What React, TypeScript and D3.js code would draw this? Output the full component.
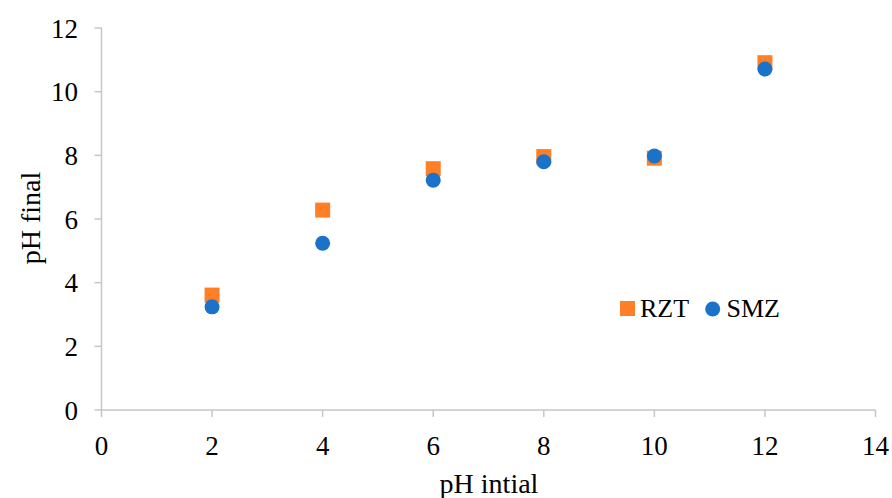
import React from "react";
import * as d3 from "d3";

const xValues = [2, 4, 6, 8, 10, 12];
const rztValues = [3.61, 6.28, 7.58, 7.96, 7.91, 10.91];
const smzValues = [3.24, 5.24, 7.22, 7.8, 7.98, 10.71];
const xTicks = [0, 2, 4, 6, 8, 10, 12, 14];
const yTicks = [0, 2, 4, 6, 8, 10, 12];

const W = 892;
const H = 498;
const font = "'Liberation Serif', 'Times New Roman', serif";
const axisColor = "#c6c6c6";
const orange = "#ff7f27";
const blue = "#1a73c8";

export default function App() {
  const x = d3.scaleLinear().domain([0, 14]).range([101.5, 875.5]);
  const y = d3.scaleLinear().domain([0, 12]).range([410, 28]);
  const ms = 15;
  return (
    <svg width={W} height={H} style={{ position: "absolute", left: 0, top: 0, background: "#fff" }}>
      <rect width={W} height={H} fill="#fff" />
      <line x1={x(0)} x2={x(14)} y1={y(0)} y2={y(0)} stroke={axisColor} strokeWidth={1.5} />
      <line x1={x(0)} x2={x(0)} y1={y(0)} y2={y(12)} stroke={axisColor} strokeWidth={1.5} />
      {xTicks.map((t) => (
        <g key={"xt" + t}>
          <line x1={x(t)} x2={x(t)} y1={y(0)} y2={y(0) + 7} stroke={axisColor} strokeWidth={1.5} />
          <text x={x(t)} y={455} textAnchor="middle" fontFamily={font} fontSize={27} fill="#000">{t}</text>
        </g>
      ))}
      {yTicks.map((t) => (
        <g key={"yt" + t}>
          <line x1={x(0) - 7} x2={x(0)} y1={y(t)} y2={y(t)} stroke={axisColor} strokeWidth={1.5} />
          <text x={78} y={y(t) + 9.5} textAnchor="end" fontFamily={font} fontSize={27} fill="#000">{t}</text>
        </g>
      ))}
      {xValues.map((v, i) => (
        <rect key={"r" + i} x={x(v) - ms / 2} y={y(rztValues[i]) - ms / 2} width={ms} height={ms} fill={orange} />
      ))}
      {xValues.map((v, i) => (
        <circle key={"c" + i} cx={x(v)} cy={y(smzValues[i])} r={ms / 2} fill={blue} />
      ))}
      <text x={489} y={493} textAnchor="middle" fontFamily={font} fontSize={28} fill="#000">pH intial</text>
      <text transform={`translate(40,${218}) rotate(-90)`} textAnchor="middle" fontFamily={font} fontSize={28} fill="#000">pH final</text>
      <rect x={620} y={301} width={15} height={15} fill={orange} />
      <text x={640} y={317} fontFamily={font} fontSize={26} fill="#000">RZT</text>
      <circle cx={712.7} cy={309} r={7.5} fill={blue} />
      <text x={726.5} y={317} fontFamily={font} fontSize={26} fill="#000">SMZ</text>
    </svg>
  );
}
